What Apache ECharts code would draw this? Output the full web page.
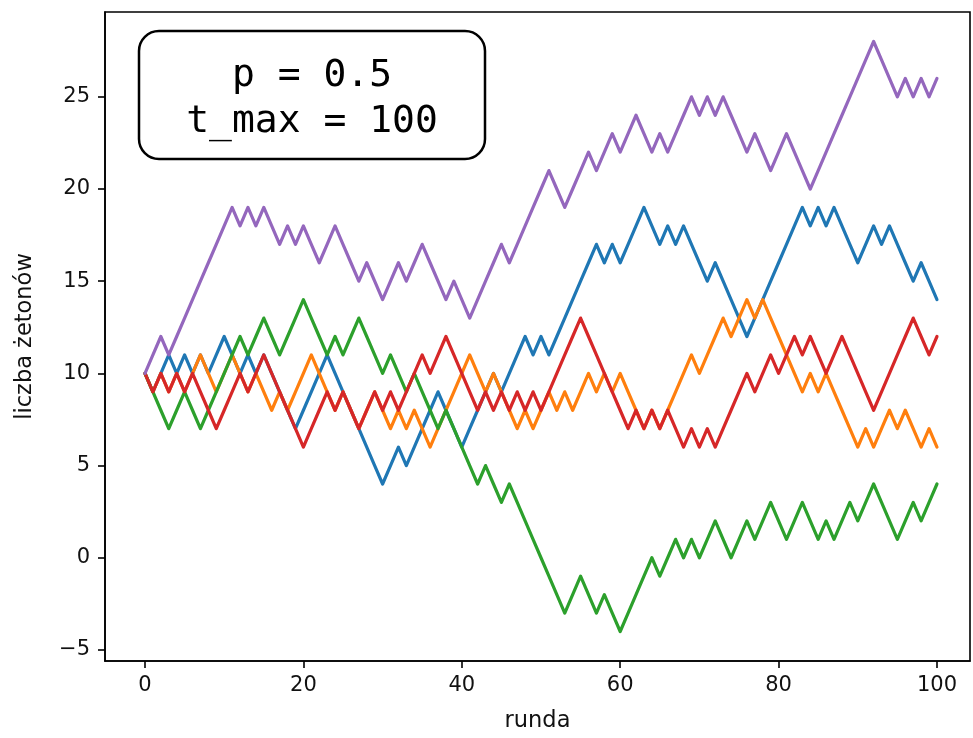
<!DOCTYPE html>
<html>
<head>
<meta charset="utf-8">
<script src="https://cdn.jsdelivr.net/npm/echarts@6/dist/echarts.min.js"></script>
<style>
  html, body { margin: 0; padding: 0; background: #ffffff; }
  #chart { width: 973px; height: 738px; }
</style>
</head>
<body>
<div id="chart"></div>
<script>
// Five random walks of a player's chip count, one value per round (0..100).
const rounds = Array.from({ length: 101 }, (_, i) => i);

const walkBlue = [
  10, 9, 10, 11, 10, 11, 10, 11, 10, 11,
  12, 11, 10, 11, 10, 11, 10, 9, 8, 7,
  8, 9, 10, 11, 10, 9, 8, 7, 6, 5,
  4, 5, 6, 5, 6, 7, 8, 9, 8, 7,
  6, 7, 8, 9, 10, 9, 10, 11, 12, 11,
  12, 11, 12, 13, 14, 15, 16, 17, 16, 17,
  16, 17, 18, 19, 18, 17, 18, 17, 18, 17,
  16, 15, 16, 15, 14, 13, 12, 13, 14, 15,
  16, 17, 18, 19, 18, 19, 18, 19, 18, 17,
  16, 17, 18, 17, 18, 17, 16, 15, 16, 15,
  14
];

const walkOrange = [
  10, 9, 10, 9, 10, 9, 10, 11, 10, 9,
  10, 11, 10, 9, 10, 9, 8, 9, 8, 9,
  10, 11, 10, 9, 8, 9, 8, 7, 8, 9,
  8, 7, 8, 7, 8, 7, 6, 7, 8, 9,
  10, 11, 10, 9, 10, 9, 8, 7, 8, 7,
  8, 9, 8, 9, 8, 9, 10, 9, 10, 9,
  10, 9, 8, 7, 8, 7, 8, 9, 10, 11,
  10, 11, 12, 13, 12, 13, 14, 13, 14, 13,
  12, 11, 10, 9, 10, 9, 10, 9, 8, 7,
  6, 7, 6, 7, 8, 7, 8, 7, 6, 7,
  6
];

const walkGreen = [
  10, 9, 8, 7, 8, 9, 8, 7, 8, 9,
  10, 11, 12, 11, 12, 13, 12, 11, 12, 13,
  14, 13, 12, 11, 12, 11, 12, 13, 12, 11,
  10, 11, 10, 9, 10, 9, 8, 7, 8, 7,
  6, 5, 4, 5, 4, 3, 4, 3, 2, 1,
  0, -1, -2, -3, -2, -1, -2, -3, -2, -3,
  -4, -3, -2, -1, 0, -1, 0, 1, 0, 1,
  0, 1, 2, 1, 0, 1, 2, 1, 2, 3,
  2, 1, 2, 3, 2, 1, 2, 1, 2, 3,
  2, 3, 4, 3, 2, 1, 2, 3, 2, 3,
  4
];

const walkRed = [
  10, 9, 10, 9, 10, 9, 10, 9, 8, 7,
  8, 9, 10, 9, 10, 11, 10, 9, 8, 7,
  6, 7, 8, 9, 8, 9, 8, 7, 8, 9,
  8, 9, 8, 9, 10, 11, 10, 11, 12, 11,
  10, 9, 8, 9, 8, 9, 8, 9, 8, 9,
  8, 9, 10, 11, 12, 13, 12, 11, 10, 9,
  8, 7, 8, 7, 8, 7, 8, 7, 6, 7,
  6, 7, 6, 7, 8, 9, 10, 9, 10, 11,
  10, 11, 12, 11, 12, 11, 10, 11, 12, 11,
  10, 9, 8, 9, 10, 11, 12, 13, 12, 11,
  12
];

const walkPurple = [
  10, 11, 12, 11, 12, 13, 14, 15, 16, 17,
  18, 19, 18, 19, 18, 19, 18, 17, 18, 17,
  18, 17, 16, 17, 18, 17, 16, 15, 16, 15,
  14, 15, 16, 15, 16, 17, 16, 15, 14, 15,
  14, 13, 14, 15, 16, 17, 16, 17, 18, 19,
  20, 21, 20, 19, 20, 21, 22, 21, 22, 23,
  22, 23, 24, 23, 22, 23, 22, 23, 24, 25,
  24, 25, 24, 25, 24, 23, 22, 23, 22, 21,
  22, 23, 22, 21, 20, 21, 22, 23, 24, 25,
  26, 27, 28, 27, 26, 25, 26, 25, 26, 25,
  26
];

const xTicks = [0, 20, 40, 60, 80, 100];
const yTicks = [-5, 0, 5, 10, 15, 20, 25];

const walks = [
  { data: walkBlue,   color: '#1f77b4' },
  { data: walkOrange, color: '#ff7f0e' },
  { data: walkGreen,  color: '#2ca02c' },
  { data: walkRed,    color: '#d62728' },
  { data: walkPurple, color: '#9467bd' }
];

const tickFont = { fontFamily: 'DejaVu Sans', fontSize: 21, color: '#111' };
const nameFont = { fontFamily: 'DejaVu Sans', fontSize: 22.5, color: '#111' };
const spine = { color: '#000', width: 1.6 };

const chart = echarts.init(document.getElementById('chart'), null, { renderer: 'canvas' });

chart.setOption({
  animation: false,
  backgroundColor: '#ffffff',
  grid: {
    left: 105, top: 12, width: 865, height: 650,
    show: true, borderColor: '#000', borderWidth: 1.6, backgroundColor: 'transparent'
  },
  xAxis: {
    type: 'value',
    min: -5.05, max: 104.17,
    name: 'runda',
    nameLocation: 'middle',
    nameGap: 49,
    nameTextStyle: nameFont,
    axisLine: { show: true, onZero: false, lineStyle: spine },
    axisTick: { show: true, inside: false, length: 7, customValues: xTicks, lineStyle: spine },
    axisLabel: { show: true, margin: 14, customValues: xTicks, ...tickFont },
    splitLine: { show: false }
  },
  yAxis: {
    type: 'value',
    min: -5.6, max: 29.6,
    name: 'liczba żetonów',
    nameLocation: 'middle',
    nameGap: 68,
    nameRotate: 90,
    nameTextStyle: nameFont,
    axisLine: { show: true, onZero: false, lineStyle: spine },
    axisTick: { show: true, inside: false, length: 7, customValues: yTicks, lineStyle: spine },
    axisLabel: {
      show: true, margin: 15, customValues: yTicks, ...tickFont,
      formatter: v => (v < 0 ? '\u2212' + Math.abs(v) : String(v))
    },
    splitLine: { show: false }
  },
  series: walks.map((w, k) => ({
    type: 'line',
    data: w.data.map((v, i) => [rounds[i], v]),
    showSymbol: false,
    symbol: 'none',
    z: 2 + k,
    lineStyle: { color: w.color, width: 3.2, join: 'round', cap: 'round' },
    itemStyle: { color: w.color },
    emphasis: { disabled: true }
  })),
  graphic: [
    {
      type: 'rect',
      z: 100,
      shape: { x: 139, y: 31, width: 346, height: 128, r: 20 },
      style: { fill: '#ffffff', stroke: '#000000', lineWidth: 2.5 }
    },
    {
      type: 'text',
      z: 101,
      x: 312, y: 76,
      style: {
        text: 'p = 0.5',
        font: '38px "DejaVu Sans Mono"',
        fill: '#000', align: 'center', verticalAlign: 'middle'
      }
    },
    {
      type: 'text',
      z: 101,
      x: 312, y: 122,
      style: {
        text: 't_max = 100',
        font: '38px "DejaVu Sans Mono"',
        fill: '#000', align: 'center', verticalAlign: 'middle'
      }
    }
  ]
});
</script>
</body>
</html>
